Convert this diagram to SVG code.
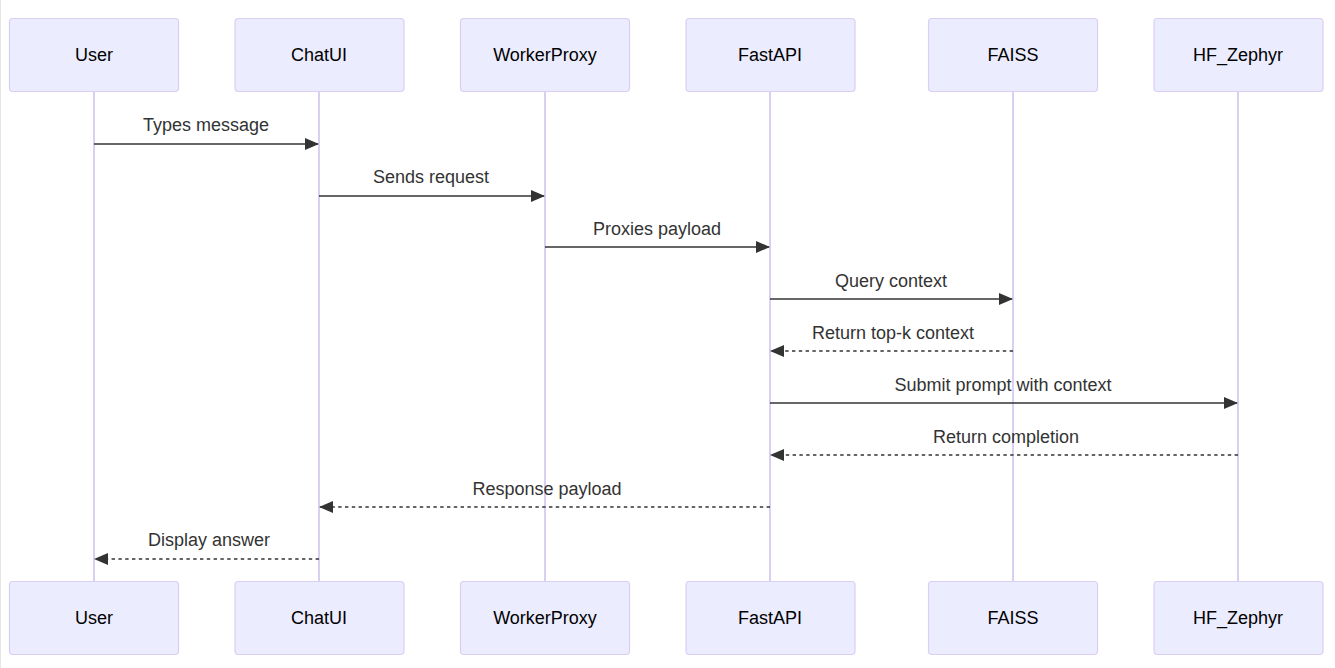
<svg xmlns="http://www.w3.org/2000/svg" width="1335" height="668" viewBox="0 0 1335 668">
<style>
.actor{fill:#ECECFF;stroke:#DACEF3;stroke-width:1.2}
.atext{font-family:"Liberation Sans",Arial,sans-serif;font-size:18px;fill:#000;text-anchor:middle;dominant-baseline:central}
.life{stroke:#DACEF3;stroke-width:2}
.msg{stroke:#333;stroke-width:1.7;fill:none}
.dash{stroke-dasharray:3.4,3.4}
.mtext{font-family:"Liberation Sans",Arial,sans-serif;font-size:18px;fill:#333;text-anchor:middle}
</style>
<defs>
<marker id="ah" markerWidth="14" markerHeight="12" refX="13" refY="6" orient="auto" markerUnits="userSpaceOnUse">
<path d="M0,0 L14,6 L0,12 z" fill="#333"/>
</marker>
</defs>
<rect x="0" y="0" width="1335" height="668" fill="#fff"/>
<line x1="0.5" y1="0" x2="0.5" y2="668" stroke="#e6e6e6" stroke-width="1"/>
<g id="lifelines">
<line class="life" x1="94" y1="91" x2="94" y2="581"/>
<line class="life" x1="319" y1="91" x2="319" y2="581"/>
<line class="life" x1="545" y1="91" x2="545" y2="581"/>
<line class="life" x1="770" y1="91" x2="770" y2="581"/>
<line class="life" x1="1013" y1="91" x2="1013" y2="581"/>
<line class="life" x1="1238" y1="91" x2="1238" y2="581"/>
</g>
<g id="User"><rect class="actor" x="9.5" y="18.5" width="169" height="73" rx="3.4"/><text class="atext" x="94" y="55">User</text>
<rect class="actor" x="9.5" y="581.5" width="169" height="73" rx="3.4"/><text class="atext" x="94" y="618">User</text></g>
<g id="ChatUI"><rect class="actor" x="235" y="18.5" width="169" height="73" rx="3.4"/><text class="atext" x="319" y="55">ChatUI</text>
<rect class="actor" x="235" y="581.5" width="169" height="73" rx="3.4"/><text class="atext" x="319" y="618">ChatUI</text></g>
<g id="WorkerProxy"><rect class="actor" x="460.5" y="18.5" width="169" height="73" rx="3.4"/><text class="atext" x="545" y="55">WorkerProxy</text>
<rect class="actor" x="460.5" y="581.5" width="169" height="73" rx="3.4"/><text class="atext" x="545" y="618">WorkerProxy</text></g>
<g id="FastAPI"><rect class="actor" x="686" y="18.5" width="169" height="73" rx="3.4"/><text class="atext" x="770" y="55">FastAPI</text>
<rect class="actor" x="686" y="581.5" width="169" height="73" rx="3.4"/><text class="atext" x="770" y="618">FastAPI</text></g>
<g id="FAISS"><rect class="actor" x="928.5" y="18.5" width="169" height="73" rx="3.4"/><text class="atext" x="1013" y="55">FAISS</text>
<rect class="actor" x="928.5" y="581.5" width="169" height="73" rx="3.4"/><text class="atext" x="1013" y="618">FAISS</text></g>
<g id="HF_Zephyr"><rect class="actor" x="1154" y="18.5" width="169" height="73" rx="3.4"/><text class="atext" x="1238" y="55">HF_Zephyr</text>
<rect class="actor" x="1154" y="581.5" width="169" height="73" rx="3.4"/><text class="atext" x="1238" y="618">HF_Zephyr</text></g>
<g id="connectors">
<line class="msg" x1="94" y1="144" x2="318" y2="144" marker-end="url(#ah)"/>
<text class="mtext" x="206" y="131">Types message</text>
<line class="msg" x1="319" y1="196" x2="544" y2="196" marker-end="url(#ah)"/>
<text class="mtext" x="431" y="183">Sends request</text>
<line class="msg" x1="545" y1="247" x2="769" y2="247" marker-end="url(#ah)"/>
<text class="mtext" x="657" y="235">Proxies payload</text>
<line class="msg" x1="770" y1="299" x2="1012" y2="299" marker-end="url(#ah)"/>
<text class="mtext" x="891" y="287">Query context</text>
<line class="msg dash" x1="1013" y1="351" x2="771" y2="351" marker-end="url(#ah)"/>
<text class="mtext" x="893" y="339">Return top-k context</text>
<line class="msg" x1="770" y1="403" x2="1237" y2="403" marker-end="url(#ah)"/>
<text class="mtext" x="1003" y="391">Submit prompt with context</text>
<line class="msg dash" x1="1238" y1="455" x2="771" y2="455" marker-end="url(#ah)"/>
<text class="mtext" x="1006" y="443">Return completion</text>
<line class="msg dash" x1="770" y1="507" x2="320" y2="507" marker-end="url(#ah)"/>
<text class="mtext" x="547" y="495">Response payload</text>
<line class="msg dash" x1="319" y1="559" x2="95" y2="559" marker-end="url(#ah)"/>
<text class="mtext" x="209" y="546">Display answer</text>
</g>
</svg>
